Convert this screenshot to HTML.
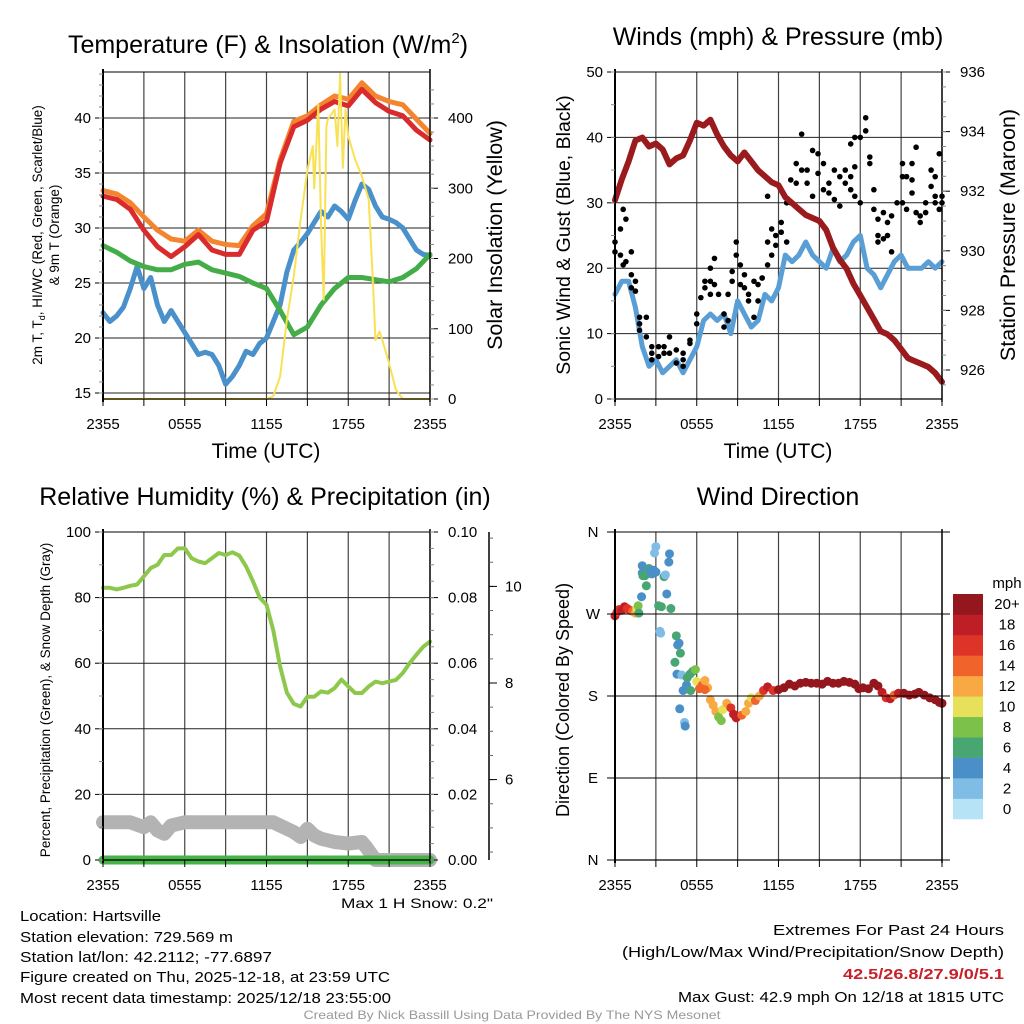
<!DOCTYPE html>
<html><head><meta charset="utf-8"><title>Mesonet Meteogram</title>
<style>
html,body{margin:0;padding:0;background:#fff;}
svg{display:block;font-family:"Liberation Sans",sans-serif;}
</style></head>
<body>
<svg id="chart" width="1024" height="1024" viewBox="0 0 1024 1024" xmlns="http://www.w3.org/2000/svg">
<rect x="0" y="0" width="1024" height="1024" fill="#fff"/>
<!-- titles -->
<text x="268" y="53" font-size="25" text-anchor="middle">Temperature (F) &amp; Insolation (W/m<tspan font-size="15" dy="-10">2</tspan><tspan dy="10">)</tspan></text>
<text x="778" y="45" font-size="25" text-anchor="middle">Winds (mph) &amp; Pressure (mb)</text>
<text x="265" y="505" font-size="25" text-anchor="middle">Relative Humidity (%) &amp; Precipitation (in)</text>
<text x="778" y="505" font-size="25" text-anchor="middle">Wind Direction</text>
<!-- x axis titles -->
<text x="266" y="458" font-size="21" text-anchor="middle">Time (UTC)</text>
<text x="778" y="458" font-size="21" text-anchor="middle">Time (UTC)</text>
<!-- y axis titles -->
<text transform="translate(42,235) rotate(-90)" font-size="13.5" text-anchor="middle">2m T, T<tspan font-size="9" dy="3">d</tspan><tspan dy="-3">, HI/WC (Red, Green, Scarlet/Blue)</tspan></text>
<text transform="translate(59,235) rotate(-90)" font-size="13.5" text-anchor="middle">&amp; 9m T (Orange)</text>
<text transform="translate(502,235) rotate(-90)" font-size="21.5" text-anchor="middle">Solar Insolation (Yellow)</text>
<text transform="translate(570,235) rotate(-90)" font-size="19.5" text-anchor="middle">Sonic Wind &amp; Gust (Blue, Black)</text>
<text transform="translate(1015,235) rotate(-90)" font-size="21.5" text-anchor="middle">Station Pressure (Maroon)</text>
<text transform="translate(50,700) rotate(-90)" font-size="13.5" text-anchor="middle">Percent, Precipitation (Green), &amp; Snow Depth (Gray)</text>
<text transform="translate(569,700) rotate(-90)" font-size="18" text-anchor="middle">Direction (Colored By Speed)</text>
<!-- footer texts -->
<text x="493" y="908" font-size="14" text-anchor="end" textLength="152" lengthAdjust="spacingAndGlyphs">Max 1 H Snow: 0.2"</text>
<g font-size="15">
<text x="20" y="921" textLength="141" lengthAdjust="spacingAndGlyphs">Location: Hartsville</text>
<text x="20" y="942" textLength="213" lengthAdjust="spacingAndGlyphs">Station elevation: 729.569 m</text>
<text x="20" y="962" textLength="252" lengthAdjust="spacingAndGlyphs">Station lat/lon: 42.2112; -77.6897</text>
<text x="20" y="982" textLength="370" lengthAdjust="spacingAndGlyphs">Figure created on Thu, 2025-12-18, at 23:59 UTC</text>
<text x="20" y="1003" textLength="371" lengthAdjust="spacingAndGlyphs">Most recent data timestamp: 2025/12/18 23:55:00</text>
</g>
<g font-size="15" text-anchor="end">
<text x="1004" y="935" textLength="231" lengthAdjust="spacingAndGlyphs">Extremes For Past 24 Hours</text>
<text x="1004" y="957" textLength="382" lengthAdjust="spacingAndGlyphs">(High/Low/Max Wind/Precipitation/Snow Depth)</text>
<text x="1004" y="979" fill="#c8202a" font-weight="bold" textLength="161" lengthAdjust="spacingAndGlyphs">42.5/26.8/27.9/0/5.1</text>
<text x="1004" y="1002" textLength="326" lengthAdjust="spacingAndGlyphs">Max Gust: 42.9 mph On 12/18 at 1815 UTC</text>
</g>
<text x="512" y="1019" font-size="12" fill="#999" text-anchor="middle" textLength="417" lengthAdjust="spacingAndGlyphs">Created By Nick Bassill Using Data Provided By The NYS Mesonet</text>
</svg>
<script>
// ---------- DATA ----------
const hours25 = [0,1,2,3,4,5,6,7,8,9,10,11,12,13,14,15,16,17,18,19,20,21,22,23,24];
const tempRed = [32.9,32.6,31.7,29.8,28.3,27.4,28.3,29.4,28.0,27.6,27.6,29.8,30.6,35.9,39.2,39.8,40.8,41.5,41.1,42.6,41.4,40.6,40.2,38.9,38.0];
const tempOrange = [33.4,33.1,32.3,31.0,29.8,29.0,28.8,29.8,28.8,28.5,28.4,30.2,31.3,36.2,39.7,40.2,41.2,42.0,41.7,43.2,42.0,41.5,41.2,39.9,38.6];
const tempGreen = [28.4,27.8,27.0,26.5,26.2,26.2,26.7,26.9,26.2,25.9,25.6,25.0,24.5,22.5,20.3,21.0,23.0,24.5,25.5,25.5,25.3,25.1,25.5,26.3,27.6];
const hours49 = [0,0.5,1,1.5,2,2.5,3,3.5,4,4.5,5,5.5,6,6.5,7,7.5,8,8.5,9,9.5,10,10.5,11,11.5,12,12.5,13,13.5,14,14.5,15,15.5,16,16.5,17,17.5,18,18.5,19,19.5,20,20.5,21,21.5,22,22.5,23,23.5,24];
const tempBlue = [22.3,21.5,22.0,22.8,24.5,26.5,24.5,25.5,23.0,21.5,22.5,21.5,20.5,19.5,18.5,18.7,18.5,17.5,15.8,16.5,17.5,18.8,18.5,19.5,20.0,21.5,23.0,26.0,28.0,28.7,29.5,30.5,31.5,31.0,32.0,31.5,30.8,32.5,34.0,33.5,32.0,31.0,30.8,30.5,30.0,29.0,28.0,27.6,27.5];
const solarTimes = [0,12,12.5,13,13.5,14,14.5,15,15.4,15.5,15.8,16.0,16.2,16.4,16.5,17,17.2,17.4,17.6,17.8,18,18.5,19,19.5,19.8,20,20.3,20.5,21,21.5,22,24];
const solarValues = [0,0,4,32,113,175,255,326,360,300,419,250,141,388,398,412,360,463,329,412,374,341,317,284,170,84,96,84,51,13,0,0];
const windSpeed = [16,18,18,14,8,5,6,4,5,6,4,6,8,12,13,12,13,10,15,13,11,12,16,15,17,22,21,22,24,22,21,20,23,21,22,24,25,20,19,17,19,21,22,20,20,20,21,20,21];
const pressure = [931.7,932.4,933.0,933.7,933.8,933.5,933.6,933.4,932.9,933.1,933.2,933.7,934.3,934.2,934.4,933.9,933.5,933.2,933.0,933.3,933.0,932.7,932.5,932.3,932.2,931.8,931.6,931.4,931.2,931.1,931.0,930.7,930.1,929.7,929.4,928.9,928.5,928.1,927.7,927.3,927.2,927.0,926.7,926.4,926.3,926.2,926.1,925.9,925.6];
const gustTimes = [0,0,0.4,0.4,0.6,0.6,0.8,0.8,1.2,1.2,1.2,1.5,1.5,1.8,1.8,1.8,2.3,2.3,2.7,2.7,2.7,3.2,3.2,3.6,3.6,4,4,4.5,4.5,5,5,5,5.5,5.5,6,6,6.3,6.6,6.6,7,7,7,7.3,7.3,7.6,8,8,8.3,8.3,8.6,8.6,8.9,8.9,9.2,9.2,9.5,9.5,9.8,9.8,10.2,10.2,10.5,10.5,10.8,10.8,11.2,11.2,11.2,11.5,11.5,11.8,11.8,12.2,12.2,12.6,12.6,12.9,12.9,13.3,13.3,13.7,13.7,14.1,14.1,14.5,14.5,14.9,14.9,15.3,15.3,15.7,15.7,16.1,16.1,16.5,16.5,16.9,16.9,17.3,17.3,17.3,17.6,17.6,17.6,18,18,18.4,18.4,18.7,18.7,19,19,19.3,19.3,19.3,19.7,19.7,20,20,20.3,20.3,20.7,21.1,21.1,21.1,21.4,21.4,21.8,21.8,21.8,22.1,22.1,22.4,22.4,22.8,22.8,23.2,23.2,23.5,23.5,23.5,23.8,23.8,24,24];
const gustValues = [24,22.5,26,22,29,20.5,27.5,21,19,22.5,17,18,16.5,12.5,11.5,10.5,12.5,9.5,8,6,7,8,6.5,7,8,9.5,7,7.5,5.5,5,6,7,8.5,9,11.5,13,15.5,18,17,20,18,16,21.5,17.5,16,13,11,12,16,19.5,18,24,22,20.5,17.5,19,17,15,16,18,12.5,17.5,15,18.5,18.5,20.5,24,31,26,22,25,23.5,27,25.5,24,30,33.5,30,33,36,40.5,35,35,33,38,31,37.5,34.5,36,32,33,31.5,35,30.5,34,29.5,35,33,39,32,34,40,35.5,31,30,40,43,41,37,36,32,29,27.5,25,24,28.5,24.5,27,25,28,22.5,30,36,30,34,34,29,33.5,36,31.5,38.5,28.5,28,27,28.5,30,35,32.5,34,31,30,37.5,29,31,30];
const rhValues = [83,83,82.5,83,83.6,84,86.5,89,90,93,93,95,95,92,91,90.5,92,93.6,93,93.8,92.8,89.5,85,80,77.8,70,59,51,47.6,46.8,49.8,49.8,51.4,51,52.4,55,52.9,50.9,50.9,52.9,54.4,53.9,54.4,54.9,57,60,62.6,65,66.6];
const snowTimes = [0,2,3,3.5,4,4.5,5,6,12,12.5,13,14,14.5,15,15.5,16,17,18,19,19.3,20,24];
const snowDepth = [11.5,11.5,10,11.5,9,8,10.5,11.5,11.5,11.5,10.5,8.5,7,9.5,7.5,6.5,5.5,5,5.5,4,0,0];
const precipTimes = [0,24];
const precipValues = [0,0];
const dirTimes = [0,0.15,0.3,0.5,0.7,0.9,1.1,1.3,1.5,1.6,1.7,1.75,1.95,2.0,2.0,2.05,2.2,2.3,2.4,2.5,2.6,2.7,2.85,2.9,3.0,3.0,3.2,3.4,3.3,3.35,3.6,3.7,3.8,3.95,4.0,4.1,4.5,4.6,4.7,4.8,4.4,4.55,4.9,5.0,4.75,5.1,5.15,5.25,5.3,5.5,5.7,5.55,5.9,6.0,6.2,6.4,6.6,6.8,6.6,7.0,7.2,7.4,7.6,7.8,7.9,8.2,8.5,8.7,8.9,9.3,9.6,9.8,10.0,10.3,10.6,10.9,11.2,11.6,12.0,12.4,12.8,13.2,13.6,14.0,14.4,14.8,15.2,15.6,16.0,16.4,16.8,17.2,17.6,17.9,18.2,18.6,19.0,19.3,19.6,19.9,20.2,20.5,20.8,21.2,21.6,22.0,22.3,22.7,23.1,23.5,23.8,24.0];
const dirDegrees = [268,272,275,274,278,276,274,273,271,276,279,271,289,323,315,312,312,301,315,320,318,314,318,337,344,316,279,278,251,249,311,313,292,327,336,276,246,236,238,227,217,204,203,186,166,151,147,192,200,204,207,186,209,196,188,192,197,189,187,176,170,163,157,153,165,172,167,160,156,159,163,172,178,175,180,186,190,186,187,189,193,191,194,195,194,194,193,196,194,194,196,195,193,188,189,188,194,191,184,178,177,181,183,183,181,182,184,181,178,176,173,172];
const dirSpeeds = [18,17,16,18,19,17,16,14,12,10,8,7,4,4,4,6,6,7,6,6,4,4,5,2,2,4,6,6,3,2,6,2,4,4,4,6,6,4,4,6,6,4,2,4,4,2,4,4,6,6,6,6,8,10,14,14,12,12,14,12,12,12,8,8,10,12,16,18,18,14,12,12,10,14,12,16,18,16,20,20,20,20,20,20,20,20,20,20,20,20,20,20,20,20,20,20,20,20,18,16,18,14,18,20,20,20,20,20,20,20,20,20];
const legendLabels = ['0','2','4','6','8','10','12','14','16','18','20+'];
const legendColors = ['#b7e3f7','#7fbce6','#4a8fc8','#47a672','#7cc24a','#e7e05b','#f8a944','#f0632b','#dd3427','#be1e25','#93171c'];
const timeTickLabels = ['2355','0555','1155','1755','2355'];
const tempTicks = [15,20,25,30,35,40];
const solarTicks = [0,100,200,300,400];
const windTicks = [0,10,20,30,40,50];
const pressTicks = [926,928,930,932,934,936];
const rhTicks = [0,20,40,60,80,100];
const precipTicks = ['0.00','0.02','0.04','0.06','0.08','0.10'];
const snowAxisTicks = [6,8,10];
const dirTicks = ['N','E','S','W','N'];

// ---------- HELPERS ----------
const NS = 'http://www.w3.org/2000/svg';
const svg = document.getElementById('chart');
function mk(tag, attrs, parent) {
  const e = document.createElementNS(NS, tag);
  for (const k in attrs) e.setAttribute(k, attrs[k]);
  (parent || svg).appendChild(e);
  return e;
}
function linScale(d0, d1, r0, r1) { return v => r0 + (v - d0) / (d1 - d0) * (r1 - r0); }

const panels = {
  temp: {x0:103, x1:430, y0:72, y1:399},
  wind: {x0:615, x1:942, y0:72, y1:399},
  rh:   {x0:103, x1:430, y0:532, y1:860},
  dir:  {x0:615, x1:942, y0:532, y1:860}
};
function xScale(p) { return linScale(0, 24, p.x0, p.x1); }

const yTemp = linScale(15, 40, 393, 118);
const ySolar = linScale(0, 400, 399, 118);
const yWind = linScale(0, 50, 399, 72);
const yPress = linScale(926, 936, 370, 72);
const yRh = linScale(0, 100, 860, 532);
const yPrecip = linScale(0, 0.1, 860, 532);
const ySnowAxis = linScale(8, 10, 683, 586.4);
const yDir = linScale(0, 360, 860, 532);

function grid(p, yVals, yf, name) {
  const g = mk('g', {});
  
  
  const xs = xScale(p);
  for (let h = 3; h < 24; h += 3) {
    const l = mk('line', {x1:xs(h), x2:xs(h), y1:p.y0, y2:p.y1, stroke:'#444', 'stroke-width':1.2}, g);
    
  }
  yVals.forEach(v => {
    const y = yf(v);
    if (y > p.y0 + 1 && y < p.y1 - 1) {
      const l = mk('line', {x1:p.x0, x2:p.x1, y1:y, y2:y, stroke:'#222', 'stroke-width':1}, g);
      
    }
  });
}
function frame(p, name) {
  const g = mk('g', {});
  
  
  mk('line', {x1:p.x0, x2:p.x1, y1:p.y0, y2:p.y0, stroke:'#000', 'stroke-width':1}, g);
  mk('line', {x1:p.x0, x2:p.x1, y1:p.y1, y2:p.y1, stroke:'#000', 'stroke-width':1.2}, g);
  mk('line', {x1:p.x0, x2:p.x0, y1:p.y0-3, y2:p.y1+3, stroke:'#000', 'stroke-width':2}, g);
  mk('line', {x1:p.x1, x2:p.x1, y1:p.y0-3, y2:p.y1+3, stroke:'#000', 'stroke-width':1.5}, g);
  const xs = xScale(p);
  for (let h = 0; h <= 24; h += 3) {
    mk('line', {x1:xs(h), x2:xs(h), y1:p.y1, y2:p.y1+7, stroke:'#000', 'stroke-width':1}, g);
  }
  timeTickLabels.forEach((t, i) => {
    const tx = mk('text', {x:xs(i*6), y:p.y1+30, 'font-size':15, 'text-anchor':'middle'}, g);
    
    
    tx.textContent = t;
  });
}
function leftAxis(p, ticks, yf, labels, minorStep, lo, hi, name) {
  const g = mk('g', {});
  
  
  ticks.forEach((v, i) => {
    const y = yf(v);
    mk('line', {x1:p.x0-8, x2:p.x0, y1:y, y2:y, stroke:'#000', 'stroke-width':1}, g);
    const t = mk('text', {x:p.x0-12, y:y+5, 'font-size':15, 'text-anchor':'end'}, g);
    
    
    t.textContent = labels ? labels[i] : v;
  });
  if (minorStep) for (let v = lo; v <= hi + 1e-9; v += minorStep) {
    const y = yf(v);
    if (y >= p.y0 && y <= p.y1) mk('line', {x1:p.x0-4, x2:p.x0, y1:y, y2:y, stroke:'#888', 'stroke-width':1}, g);
  }
}
function rightAxis(p, ticks, yf, labels, minorStep, lo, hi, name) {
  const g = mk('g', {});
  
  
  ticks.forEach((v, i) => {
    const y = yf(v);
    mk('line', {x1:p.x1, x2:p.x1+8, y1:y, y2:y, stroke:'#000', 'stroke-width':1}, g);
    const t = mk('text', {x:p.x1+18, y:y+5, 'font-size':15, 'text-anchor':'start'}, g);
    
    
    t.textContent = labels ? labels[i] : v;
  });
  if (minorStep) for (let v = lo; v <= hi + 1e-9; v += minorStep) {
    const y = yf(v);
    if (y >= p.y0 && y <= p.y1) mk('line', {x1:p.x1, x2:p.x1+4, y1:y, y2:y, stroke:'#888', 'stroke-width':1}, g);
  }
}
function line(p, times, vals, yf, color, w, name) {
  const xs = xScale(p);
  const d = times.map((t, i) => (i ? 'L' : 'M') + xs(t).toFixed(1) + ',' + yf(vals[i]).toFixed(1)).join('');
  const el = mk('path', {d:d, fill:'none', stroke:color, 'stroke-width':w, 'stroke-linejoin':'round', 'stroke-linecap':'round'});
  
  
  return el;
}

// ---------- PANEL 1: TEMPERATURE ----------
{
  const p = panels.temp;
  grid(p, tempTicks, yTemp, 'temp-grid');
  const yel = line(p, solarTimes, solarValues, ySolar, '#f9e154', 2, 'solar-insolation-line');
  line(p, hours49, tempBlue, yTemp, '#4a90cb', 5, 'dewpoint-line');
  line(p, hours25, tempGreen, yTemp, '#44ad48', 5, 'green-temp-line');
  line(p, hours25, tempOrange, yTemp, '#f5842f', 5, 'nine-meter-temp-line');
  line(p, hours25, tempRed, yTemp, '#d92b2c', 5, 'two-meter-temp-line');
  svg.appendChild(yel);
  frame(p, 'temp-frame');
  leftAxis(p, tempTicks, yTemp, null, 1, 15, 44, 'temp-left-axis');
  rightAxis(p, solarTicks, ySolar, null, 20, 0, 440, 'solar-right-axis');
}
// ---------- PANEL 2: WIND ----------
{
  const p = panels.wind;
  grid(p, windTicks, yWind, 'wind-grid');
  line(p, hours49, windSpeed, yWind, '#5a9ed6', 5, 'sonic-wind-line');
  const g = mk('g', {});
  
  
  const xs = xScale(p);
  gustTimes.forEach((t, i) => {
    const c = mk('circle', {cx:xs(t), cy:yWind(gustValues[i]), r:2.8, fill:'#000'}, g);
    
  });
  line(p, hours49, pressure, yPress, '#9a1a1d', 6, 'station-pressure-line');
  frame(p, 'wind-frame');
  leftAxis(p, windTicks, yWind, null, 5, 0, 50, 'wind-left-axis');
  rightAxis(p, pressTicks, yPress, null, 0.5, 925.5, 936, 'pressure-right-axis');
}
// ---------- PANEL 3: RH ----------
{
  const p = panels.rh;
  grid(p, rhTicks, yRh, 'rh-grid');
  line(p, hours49, rhValues, yRh, '#8dc84c', 4, 'relative-humidity-line');
  line(p, snowTimes, snowDepth, yRh, '#b3b3b3', 14, 'snow-depth-line');
  line(p, precipTimes, precipValues, yRh, '#46b247', 9, 'precipitation-line');
  frame(p, 'rh-frame');
  leftAxis(p, rhTicks, yRh, null, 10, 0, 100, 'rh-left-axis');
  rightAxis(p, [0,0.02,0.04,0.06,0.08,0.10], yPrecip, precipTicks, 0.005, 0, 0.1, 'precip-right-axis');
  const g = mk('g', {});
  
  
  mk('line', {x1:489, x2:489, y1:p.y0, y2:p.y1, stroke:'#000', 'stroke-width':1.5}, g);
  for (let v = 4.5; v <= 11; v += 0.5) {
    const y = ySnowAxis(v);
    if (y >= p.y0 && y <= p.y1) mk('line', {x1:489, x2:493, y1:y, y2:y, stroke:'#666', 'stroke-width':1}, g);
  }
  snowAxisTicks.forEach(v => {
    const y = ySnowAxis(v);
    mk('line', {x1:489, x2:497, y1:y, y2:y, stroke:'#000', 'stroke-width':1}, g);
    const t = mk('text', {x:505, y:y+5, 'font-size':15}, g);
    
    
    t.textContent = v;
  });
}
// ---------- PANEL 4: DIRECTION ----------
{
  const p = panels.dir;
  grid(p, [0,90,180,270,360], yDir, 'direction-grid');
  const g = mk('g', {});
  
  
  const xs = xScale(p);
  dirTimes.forEach((t, i) => {
    const bin = Math.min(10, Math.floor(dirSpeeds[i] / 2));
    const c = mk('circle', {cx:xs(t), cy:yDir(dirDegrees[i]), r:4.5, fill:legendColors[bin]}, g);
    
  });
  frame(p, 'direction-frame');
  const ga = mk('g', {});
  
  
  dirTicks.forEach((lab, i) => {
    const y = yDir(i * 90);
    mk('line', {x1:p.x0-8, x2:p.x1+8, y1:y, y2:y, stroke:'#000', 'stroke-width':1}, ga);
    const t = mk('text', {x:p.x0-22, y:y+5, 'font-size':15, 'text-anchor':'middle'}, ga);
    
    
    t.textContent = lab;
  });
  // legend
  const lg = mk('g', {});
  
  
  const lt = mk('text', {x:1007, y:588, 'font-size':15, 'text-anchor':'middle'}, lg);
  
  lt.textContent = 'mph';
  const bh = 225 / legendColors.length;
  legendColors.forEach((c, i) => {
    const y = 819 - (i + 1) * bh;
    const r = mk('rect', {x:953, y:y, width:30, height:bh + 0.3, fill:c}, lg);
    
    const t = mk('text', {x:1007, y:y + bh/2 + 5, 'font-size':15, 'text-anchor':'middle'}, lg);
    
    t.textContent = legendLabels[i];
  });
}
</script>
</body></html>
